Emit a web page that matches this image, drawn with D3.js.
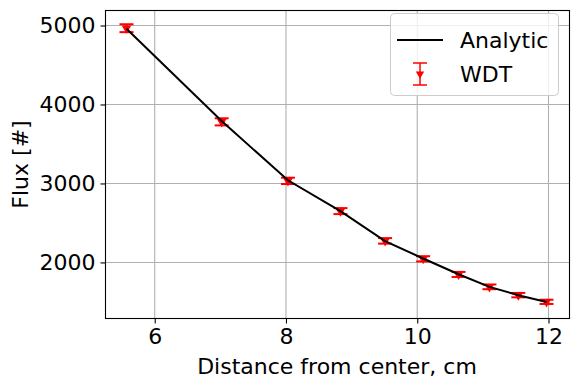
<!DOCTYPE html>
<html><head><meta charset="utf-8">
<script src="https://cdn.jsdelivr.net/npm/d3@7"></script>
<style>body{margin:0;background:#fff}svg{display:block}text{font-family:"DejaVu Sans",sans-serif;fill:#000}</style>
</head><body>
<script>
const distance = [5.57, 7.02, 8.03, 8.83, 9.51, 10.09, 10.63, 11.10, 11.54, 11.97];
const analytic = [4960, 3790, 3040, 2650, 2270, 2050, 1850, 1690, 1585, 1500];
const wdt      = [4966, 3780, 3033, 2650, 2273, 2046, 1848, 1691, 1586, 1501];
const wdtErr   = [50, 45, 40, 38, 35, 33, 32, 30, 28, 27];
const xTicks = [6, 8, 10, 12];
const yTicks = [2000, 3000, 4000, 5000];

const W = 579, H = 389;
const L = 105.5, R = 569.5, T = 10.5, B = 318.5;
const svg = d3.select("body").append("svg").attr("width", W).attr("height", H);
const x = d3.scaleLinear().domain([5.25, 12.32]).range([L, R]);
const y = d3.scaleLinear().domain([1290, 5190]).range([B, T]);

// grid
svg.append("g").selectAll("line").data(xTicks).join("line")
  .attr("x1", d => x(d)).attr("x2", d => x(d)).attr("y1", T).attr("y2", B)
  .attr("stroke", "#b0b0b0").attr("stroke-width", 1.1);
svg.append("g").selectAll("line").data(yTicks).join("line")
  .attr("y1", d => y(d)).attr("y2", d => y(d)).attr("x1", L).attr("x2", R)
  .attr("stroke", "#b0b0b0").attr("stroke-width", 1.1);

// axes
const xAxis = svg.append("g").attr("transform", `translate(0,${B})`)
  .call(d3.axisBottom(x).tickValues(xTicks).tickSize(5).tickPadding(5).tickFormat(d3.format("d")));
const yAxis = svg.append("g").attr("transform", `translate(${L},0)`)
  .call(d3.axisLeft(y).tickValues(yTicks).tickSize(5).tickPadding(5).tickFormat(d3.format("d")));
[xAxis, yAxis].forEach(a => {
  a.select(".domain").remove();
  a.selectAll("line").attr("stroke", "#000").attr("stroke-width", 1.1);
  a.selectAll("text").attr("font-size", 22).attr("font-family", "DejaVu Sans, sans-serif");
});
svg.append("rect").attr("x", L).attr("y", T).attr("width", R - L).attr("height", B - T)
  .attr("fill", "none").attr("stroke", "#000").attr("stroke-width", 1.1);

// WDT error bars
const pts = distance.map((d, i) => ({x: d, y: wdt[i], e: wdtErr[i]}));
const eb = svg.append("g");
const cap = 7;
pts.forEach(p => {
  const g = eb.append("g").attr("stroke", "red").attr("stroke-width", 2);
  g.append("line").attr("x1", x(p.x)).attr("x2", x(p.x)).attr("y1", y(p.y - p.e)).attr("y2", y(p.y + p.e));
  g.append("line").attr("x1", x(p.x) - cap).attr("x2", x(p.x) + cap).attr("y1", y(p.y - p.e)).attr("y2", y(p.y - p.e));
  g.append("line").attr("x1", x(p.x) - cap).attr("x2", x(p.x) + cap).attr("y1", y(p.y + p.e)).attr("y2", y(p.y + p.e));
});
const tri = d3.symbol().type(d3.symbolTriangle).size(40);
eb.selectAll("path").data(pts).join("path")
  .attr("d", tri).attr("fill", "red")
  .attr("transform", p => `translate(${x(p.x)},${y(p.y)}) rotate(180)`);

// analytic line
svg.append("path").datum(distance.map((d, i) => [d, analytic[i]]))
  .attr("fill", "none").attr("stroke", "#000").attr("stroke-width", 2)
  .attr("d", d3.line().x(d => x(d[0])).y(d => y(d[1])));

// axis labels
svg.append("text").attr("x", (L + R) / 2 - 0.5).attr("y", 374).attr("text-anchor", "middle")
  .attr("font-size", 22).text("Distance from center, cm");
svg.append("text").attr("transform", `translate(28,${(T + B) / 2}) rotate(-90)`)
  .attr("text-anchor", "middle").attr("font-size", 22).text("Flux [#]");

// legend
const lg = svg.append("g");
lg.append("rect").attr("x", 390.5).attr("y", 13.5).attr("width", 168).attr("height", 82).attr("rx", 4)
  .attr("fill", "#fff").attr("fill-opacity", 0.8).attr("stroke", "#ccc").attr("stroke-width", 1);
lg.append("line").attr("x1", 397).attr("x2", 443).attr("y1", 40).attr("y2", 40)
  .attr("stroke", "#000").attr("stroke-width", 2);
lg.append("text").attr("x", 460).attr("y", 48).attr("font-size", 22).text("Analytic");
const lx = 420, ly = 74;
const lgE = lg.append("g").attr("stroke", "red").attr("stroke-width", 1.5);
lgE.append("line").attr("x1", lx).attr("x2", lx).attr("y1", ly - 11).attr("y2", ly + 11);
lgE.append("line").attr("x1", lx - 7).attr("x2", lx + 7).attr("y1", ly - 11).attr("y2", ly - 11);
lgE.append("line").attr("x1", lx - 7).attr("x2", lx + 7).attr("y1", ly + 11).attr("y2", ly + 11);
lg.append("path").attr("d", d3.symbol().type(d3.symbolTriangle).size(30)).attr("fill", "red").attr("transform", `translate(${lx},${ly}) rotate(180)`);
lg.append("text").attr("x", 460).attr("y", 82).attr("font-size", 22).text("WDT");
</script>
</body></html>
